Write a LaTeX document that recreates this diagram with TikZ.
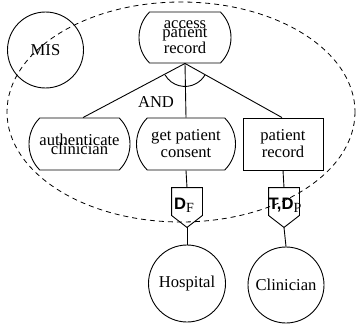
\documentclass[tikz,border=0pt]{standalone}
\usepackage{fontspec}
\setmainfont{Liberation Serif}
\setsansfont{Liberation Sans}
\usetikzlibrary{shapes.misc,calc}
\begin{document}
\begin{tikzpicture}[x=1pt,y=-1pt,line width=0.9pt,
  txt/.style={font=\fontsize{16.6}{17}\selectfont, align=center, inner sep=0pt},
  goalbox/.style={txt, draw, rounded rectangle, rounded rectangle arc length=90, minimum height=52pt},
  resbox/.style={txt, draw, rectangle, minimum width=80pt, minimum height=52pt},
  actor/.style={txt, draw, circle, minimum size=76pt},
  pentbox/.style={inner sep=0pt, minimum width=30pt, minimum height=39pt},
  deplbl/.style={inner sep=0pt, font=\fontsize{16.6}{17}\selectfont},
  boundary/.style={dashed, dash pattern=on 5pt off 4pt, line width=0.8pt}]
\useasboundingbox (0,0) rectangle (356,329);
% boundary of MIS
\draw[boundary] (181,112) ellipse [x radius=174, y radius=110];
% actors
\node[actor] (mis) at (45.5,50) {MIS};
\node[actor, minimum size=77pt] (hosp) at (187,283.5) {Hospital};
\node[actor] (clin) at (286,285) {Clinician};
% goals / tasks
\node[goalbox, minimum width=92pt, minimum height=51pt] (access) at (185,37.5) {access\\[-8pt]patient\\[-1pt]record};
\node[goalbox, minimum width=101pt] (auth) at (79.5,144) {authenticate\\[-8pt]clinician};
\node[goalbox, minimum width=99pt] (consent) at (186,144) {get patient\\consent};
\node[resbox] (record) at (283,144) {patient\\record};
% dependency symbols
\node[pentbox] (df) at (187,207.5) {};
\node[pentbox] (tdp) at (284,207.5) {};
\foreach \p in {df,tdp}{
  \draw (\p.north west) -- (\p.north east) -- ([yshift=12pt]\p.south east) -- (\p.south) -- ([yshift=12pt]\p.south west) -- cycle;
}
\node[deplbl] (dflbl) at (184,205) {{\sffamily\bfseries D}\raisebox{-3pt}{\fontsize{14}{14}\selectfont F}};
\node[deplbl] (tdplbl) at (285,205) {{\sffamily\bfseries T,D}\raisebox{-3pt}{\fontsize{14}{14}\selectfont P}};
% decomposition links
\draw (access.south) -- ([xshift=3.5pt]auth.north);
\draw (access.south) -- (consent.north);
\draw (access.south) -- ([xshift=-1pt]record.north);
\draw (access.south) ++(150:23) arc[start angle=150, end angle=30, radius=23];
\node[txt] (and) at (156,102.5) {AND};
% dependency links
\draw (consent.south) -- (df.north);
\draw (df.south) -- (hosp.north);
\draw (record.south) -- (tdp.north);
\draw (tdp.south) -- (clin.north);
\end{tikzpicture}
\end{document}
